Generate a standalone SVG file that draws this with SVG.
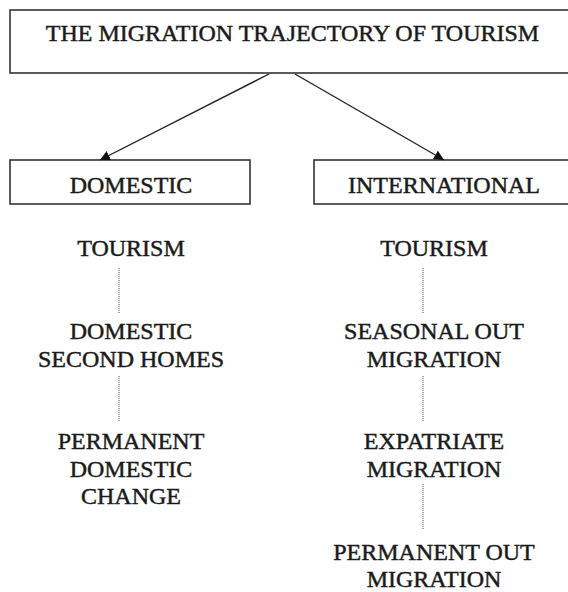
<svg xmlns="http://www.w3.org/2000/svg" width="568" height="592" viewBox="0 0 568 592">
<defs>
<style>
.box{fill:#fff;stroke:#333;stroke-width:1.6}
.t{font-family:"Liberation Serif","Times New Roman",serif;font-size:24px;fill:#1a1a1a;stroke:#1a1a1a;stroke-width:0.45;text-anchor:middle}
.arrow{stroke:#222;stroke-width:1.4;fill:none}
.dot{stroke:#444;stroke-width:1;stroke-dasharray:1 1;fill:none}
</style>
<marker id="ah" viewBox="0 0 10 10" refX="10" refY="5" markerWidth="10" markerHeight="10" markerUnits="userSpaceOnUse" orient="auto">
<path d="M0,0 L10,5 L0,10 Z" fill="#111"/>
</marker>
</defs>
<rect width="568" height="592" fill="#fff"/>
<g id="title">
<rect class="box" x="10" y="10" width="580" height="63"/>
<text class="t" x="292.5" y="41">THE MIGRATION TRAJECTORY OF TOURISM</text>
</g>
<g id="domestic">
<rect class="box" x="10" y="160" width="240" height="44"/>
<text class="t" x="131" y="193">DOMESTIC</text>
</g>
<g id="international">
<rect class="box" x="314" y="160" width="270" height="44"/>
<text class="t" x="444" y="193">INTERNATIONAL</text>
</g>
<g id="dom-tourism"><text class="t" x="131" y="256">TOURISM</text></g>
<g id="dom-second"><text class="t" x="131" y="339">DOMESTIC</text><text class="t" x="131" y="367">SECOND HOMES</text></g>
<g id="dom-permanent"><text class="t" x="131" y="449">PERMANENT</text><text class="t" x="131" y="477">DOMESTIC</text><text class="t" x="131" y="504">CHANGE</text></g>
<g id="int-tourism"><text class="t" x="434" y="256">TOURISM</text></g>
<g id="int-seasonal"><text class="t" x="434" y="339">SEASONAL OUT</text><text class="t" x="434" y="367">MIGRATION</text></g>
<g id="int-expat"><text class="t" x="434" y="449">EXPATRIATE</text><text class="t" x="434" y="477">MIGRATION</text></g>
<g id="int-permanent"><text class="t" x="434" y="560">PERMANENT OUT</text><text class="t" x="434" y="587">MIGRATION</text></g>
<g id="connectors">
<line class="arrow" x1="269" y1="74" x2="100" y2="160" marker-end="url(#ah)"/>
<line class="arrow" x1="295" y1="74" x2="444" y2="160" marker-end="url(#ah)"/>
<line class="dot" x1="119" y1="268" x2="119" y2="313"/>
<line class="dot" x1="119" y1="376" x2="119" y2="421"/>
<line class="dot" x1="423" y1="268" x2="423" y2="313"/>
<line class="dot" x1="423" y1="376" x2="423" y2="421"/>
<line class="dot" x1="423" y1="484" x2="423" y2="530"/>
</g>
</svg>
